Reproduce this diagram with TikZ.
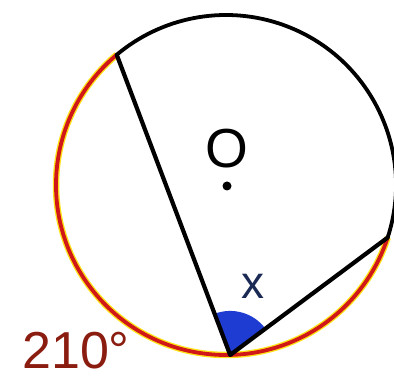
\documentclass[tikz,border=0pt]{standalone}
\usepackage{fontspec}
\setmainfont{Liberation Sans}
\usetikzlibrary{calc}
\definecolor{arcred}{HTML}{D01818}
\definecolor{glow}{HTML}{FFE21A}
\definecolor{angblue}{HTML}{1E3CD2}
\definecolor{labred}{HTML}{8A1C10}
\definecolor{navy}{HTML}{1B2A55}
\tikzset{
  rim/.style={line width=3.8pt},
  chord/.style={line width=4.2pt, line cap=round, line join=round},
  hot/.style={arcred, line width=3.8pt},
  halo/.style={glow, line width=6.5pt},
  wedge/.style={fill=angblue},
  big/.style={font=\fontsize{#1}{#1}\selectfont, inner sep=0pt},
}
\newcommand{\rad}{170}

\begin{document}
\begin{tikzpicture}[x=1pt,y=1pt]
  \useasboundingbox (0,0) rectangle (394,380);
  \coordinate (O) at (226,195);
  \path (O) ++(130:\rad) coordinate (A);
  \path (O) ++(271.4:\rad) coordinate (B);
  \path (O) ++(-18:\rad) coordinate (C);
  % angle x at B
  \fill[wedge] (B) -- ++(37:44) arc[start angle=37, end angle=111, radius=44] -- cycle;
  % intercepted arc (210 deg) and the rest of the circle
  \draw[halo] (A) arc[start angle=130, end angle=342, radius=\rad];
  \draw[hot] (A) arc[start angle=130, end angle=342, radius=\rad];
  \draw[rim] (C) arc[start angle=-18, end angle=130, radius=\rad];
  % chords
  \draw[chord] (A) -- (B) -- (C);
  % centre and labels
  \node[circle, fill, inner sep=0pt, minimum size=9pt] (ctr) at (227,194) {};
  \node[big=55] (olab) at (227,231) {O};
  \node[big=46, text=navy] (xlab) at (253,94) {x};
  \node[big=52, text=labred] (arclab) at (76,29) {210°};
\end{tikzpicture}
\end{document}
